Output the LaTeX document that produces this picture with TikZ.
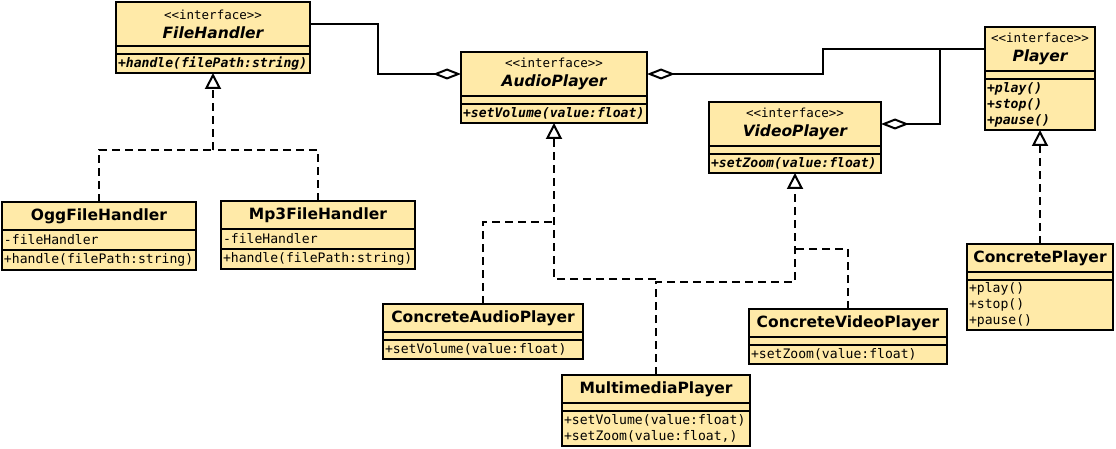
\documentclass[tikz,border=0pt]{standalone}
\usepackage{fontspec}
\setsansfont{DejaVu Sans}
\setmonofont{DejaVu Sans Mono}
\usetikzlibrary{positioning, arrows.meta}

\definecolor{classfill}{HTML}{FFEAA8}
\newcommand{\clsfont}{\sffamily\bfseries\fontsize{15.5pt}{18pt}\selectfont}
\newcommand{\membfont}{\ttfamily\fontsize{13.1pt}{16pt}\selectfont}
\newcommand{\stereofont}{\ttfamily\mdseries\upshape\fontsize{12.5pt}{15pt}\selectfont}
\newcommand{\iface}{{\stereofont <\kern0pt<interface>\kern0pt>}}

\tikzset{
	box/.style={draw, fill=classfill, line width=2pt, inner sep=0pt, outer sep=0pt, minimum width=#1},
	head/.style={box=#1, minimum height=28pt, font=\clsfont},
	ihead/.style={box=#1, minimum height=44pt, align=center, font=\clsfont},
	gap/.style={box=#1, minimum height=8pt},
	ops/.style={box=#1, minimum height=19pt, inner xsep=2pt, text width=#1-4pt, align=left, font=\membfont},
	iops/.style={ops=#1, font=\membfont\bfseries\itshape},
	aggr/.style={line width=2pt, -{Diamond[open, length=28pt, width=11pt, fill=white]}},
	dep/.style={line width=2pt, dash pattern=on 8pt off 5pt},
	impl/.style={dep, -{Triangle[open, length=16pt, width=16pt, fill=white]}}}

\begin{document}
\begin{tikzpicture}[x=1pt, y=-1pt]
	\useasboundingbox (0,0) rectangle (1116,449);

	% interfaces
	\node[ihead=194pt, anchor=north west] (fh) at (116,2) {\iface\\[1pt]{\itshape FileHandler}};
	\node[gap=194pt, below=0pt of fh] (fh-mid) {};
	\node[iops=194pt, below=0pt of fh-mid] (fh-ops) {+handle(filePath:string)};

	\node[ihead=186pt, anchor=north west] (ap) at (461,52) {\iface\\[1pt]{\itshape AudioPlayer}};
	\node[gap=186pt, below=0pt of ap] (ap-mid) {};
	\node[iops=186pt, below=0pt of ap-mid] (ap-ops) {+setVolume(value:float)};

	\node[ihead=172pt, anchor=north west] (vp) at (709,102) {\iface\\[1pt]{\itshape VideoPlayer}};
	\node[gap=172pt, below=0pt of vp] (vp-mid) {};
	\node[iops=172pt, below=0pt of vp-mid] (vp-ops) {+setZoom(value:float)};

	\node[ihead=110pt, anchor=north west] (pl) at (985,27) {\iface\\[1pt]{\itshape Player}};
	\node[gap=110pt, below=0pt of pl] (pl-mid) {};
	\node[iops=110pt, below=0pt of pl-mid, minimum height=51pt] (pl-ops) {+play()\\+stop()\\+pause()};

	% classes
	\node[head=194pt, anchor=north west] (ogg) at (2,202) {OggFileHandler};
	\node[ops=194pt, below=0pt of ogg, minimum height=20pt] (ogg-mid) {-fileHandler};
	\node[ops=194pt, below=0pt of ogg-mid, minimum height=20pt] (ogg-ops) {+handle(filePath:string)};

	\node[head=194pt, anchor=north west] (mp3) at (221,201) {Mp3FileHandler};
	\node[ops=194pt, below=0pt of mp3, minimum height=20pt] (mp3-mid) {-fileHandler};
	\node[ops=194pt, below=0pt of mp3-mid, minimum height=20pt] (mp3-ops) {+handle(filePath:string)};

	\node[head=200pt, anchor=north west] (cap) at (383,304) {ConcreteAudioPlayer};
	\node[gap=200pt, below=0pt of cap] (cap-mid) {};
	\node[ops=200pt, below=0pt of cap-mid] (cap-ops) {+setVolume(value:float)};

	\node[head=188pt, anchor=north west] (mmp) at (562,375) {MultimediaPlayer};
	\node[gap=188pt, below=0pt of mmp] (mmp-mid) {};
	\node[ops=188pt, below=0pt of mmp-mid, minimum height=35pt] (mmp-ops) {+setVolume(value:float)\\+setZoom(value:float,)};

	\node[head=198pt, anchor=north west] (cvp) at (749,309) {ConcreteVideoPlayer};
	\node[gap=198pt, below=0pt of cvp] (cvp-mid) {};
	\node[ops=198pt, below=0pt of cvp-mid] (cvp-ops) {+setZoom(value:float)};

	\node[head=146pt, anchor=north west] (cp) at (967,244) {ConcretePlayer};
	\node[gap=146pt, below=0pt of cp] (cp-mid) {};
	\node[ops=146pt, below=0pt of cp-mid, minimum height=50pt] (cp-ops) {+play()\\+stop()\\+pause()};

	% junctions of the realization lines
	\coordinate (fh-j) at (fh-ops.south |- 0,150);
	\coordinate (ap-j) at (ap-ops.south |- 0,222);
	\coordinate (vp-j) at (vp-ops.south |- 0,249);

	% aggregations
	\draw[aggr] (fh.east) -- ++(68,0) |- (ap.west);
	\draw[aggr] (pl.west) -- ++(-162,0) |- (ap.east);
	\draw[aggr] (pl.west) -- ++(-45,0) |- (vp.east);

	% realizations
	\draw[dep] (ogg.north) |- (fh-j);
	\draw[dep] (mp3.north) |- (fh-j);
	\draw[impl] (fh-j) -- (fh-ops.south);
	\draw[dep] (cap.north) |- (ap-j);
	\draw[impl] (mmp.north) ++(0,-96) -| (ap-ops.south);
	\draw[impl] (mmp.north) -- ++(0,-93) -| (vp-ops.south);
	\draw[dep] (cvp.north) |- (vp-j);
	\draw[impl] (cp.north) -- (cp.north |- pl-ops.south);
\end{tikzpicture}
\end{document}
